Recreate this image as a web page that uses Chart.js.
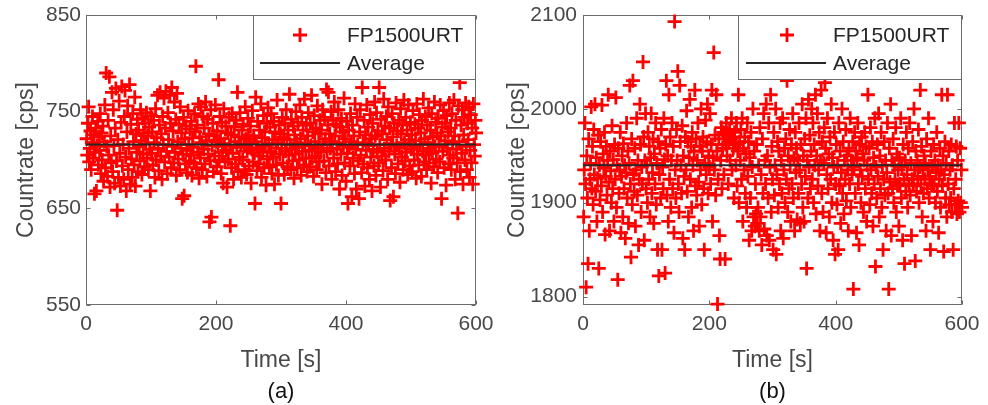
<!DOCTYPE html>
<html><head><meta charset="utf-8">
<script src="https://cdn.jsdelivr.net/npm/chart.js@4.4.1/dist/chart.umd.min.js"></script>
<style>
html,body{margin:0;padding:0;background:#fff;}
#wrap{position:relative;width:988px;height:405px;overflow:hidden;}
.panel{position:absolute;top:0;width:494px;height:405px;}
</style></head><body>
<div id="wrap">
<div class="panel" style="left:0"><canvas id="cA" width="494" height="405"></canvas></div>
<div class="panel" style="left:494px"><canvas id="cB" width="494" height="405"></canvas></div>
</div>
<script>
const seriesName = 'FP1500URT';
const averageName = 'Average';
const xLabel = 'Time [s]';
const yLabel = 'Countrate [cps]';
const captions = ['(a)', '(b)'];
const xTicks = [0, 200, 400, 600];
const yTicksA = [550, 650, 750, 850];
const yTicksB = [1800, 1900, 2000, 2100];
const averageA = 716;
const averageB = 1940;

const countrateA = [
722,705,738,755,698,712,730,690,718,745,702,726,665,708,733,668,715,740,695,724,
710,748,686,728,700,735,678,719,757,692,790,714,683,741,705,786,672,725,697,770,
688,752,715,676,733,774,699,648,721,682,761,707,673,739,776,694,716,680,745,772,
703,668,729,756,690,712,778,675,737,701,682,748,719,695,765,673,727,708,742,688,
731,714,699,752,720,685,743,706,728,693,738,717,749,702,725,690,734,711,668,746,
707,729,695,741,718,682,753,700,723,767,712,689,736,770,704,727,680,745,716,764,
698,733,771,709,686,749,721,703,767,738,692,775,714,730,697,760,708,742,684,769,
719,701,737,690,755,712,728,660,706,744,663,722,696,735,710,687,751,716,699,732,
705,740,684,723,713,697,748,729,797,692,736,708,758,681,724,702,755,718,690,745,
711,733,696,760,720,683,742,706,727,636,699,752,641,715,738,688,725,704,757,719,
693,730,714,783,700,745,722,686,739,708,676,753,717,698,735,710,672,728,701,744,
715,632,726,692,748,707,680,734,719,696,741,713,770,688,724,703,749,716,682,731,
700,737,714,690,755,722,685,709,743,726,694,718,735,676,711,751,698,725,707,655,
765,719,689,740,712,696,731,704,758,682,723,709,746,692,729,715,674,738,701,754,
717,693,734,708,748,686,721,703,740,675,729,712,695,762,718,684,736,706,727,655,
712,744,697,723,685,738,709,752,721,693,731,705,768,716,690,742,711,699,735,681,
726,706,750,718,692,739,713,700,757,722,684,744,709,731,695,763,717,702,736,688,
725,749,710,693,738,715,767,702,729,683,746,719,704,733,690,756,712,727,698,741,
708,731,675,752,716,699,744,722,687,773,709,736,770,694,727,712,750,680,719,741,
702,760,725,688,737,711,696,752,718,670,734,706,743,684,729,715,764,697,722,678,
740,707,655,731,713,694,748,719,662,736,702,725,686,758,711,670,744,716,699,660,
729,752,705,687,775,718,696,741,673,726,710,757,692,734,715,680,747,703,722,668,
738,711,694,760,725,684,749,708,730,697,775,716,672,742,704,727,689,763,712,735,
700,745,721,680,755,709,733,658,717,692,748,724,662,738,706,686,759,715,730,696,
741,712,677,753,727,703,736,690,762,718,699,744,708,731,685,757,721,694,739,711,
726,688,751,714,700,737,720,681,758,706,733,695,747,716,728,683,741,709,763,698,
722,745,705,690,736,718,754,697,712,731,676,748,707,724,693,760,714,739,701,728,
687,743,716,698,757,725,660,734,709,751,692,720,738,674,746,712,729,696,759,705,
733,690,748,718,702,762,725,680,741,711,697,645,756,719,780,688,736,707,752,675,
726,744,700,759,714,690,738,721,755,682,710,747,697,733,675,758,716,704,741,728
];

const countrateB = [
1885,1935,1985,1920,1810,1950,1905,1835,1968,1870,1925,1942,2002,1915,1960,1898,1978,1930,2005,1912,
1948,1880,1926,1972,1830,1940,1903,1965,1918,2004,1890,1952,1937,1975,1866,1928,1960,1908,1945,2015,
1922,1870,1955,1934,1900,1982,1915,1946,1880,1962,1925,2012,1895,1940,1818,1958,1910,1935,1975,1868,
1928,1950,1885,1963,1915,1940,1862,1932,1985,1905,1955,1878,1942,2025,1920,1842,1968,1898,2030,1930,
1912,1958,1875,1935,1990,1908,1945,1855,1925,2005,1962,1890,1938,1920,2050,1970,1860,1945,1995,1915,
1940,1900,1975,1925,1960,1885,1948,1995,1910,1932,1968,1878,1952,1920,1985,1898,1942,1850,1965,1822,
1930,1958,1905,1978,1850,1938,1915,1990,1946,1825,1962,2030,1908,1950,1880,2015,1925,1970,1895,1945,
1985,1915,1960,1868,2093,1935,1905,1978,1945,2040,1920,1890,2025,1965,1940,1910,1982,1862,1950,1928,
1850,1970,1935,1998,1912,1965,1885,1948,2010,1925,1960,1895,1975,1940,1870,1955,2020,1918,1968,1908,
1945,1985,1922,1875,1960,1935,2000,1898,1955,1970,1915,1850,1942,1988,1930,1965,2005,1910,1950,1938,
1995,1920,1962,2020,1880,1948,2060,1935,1972,1908,2015,1955,1792,1925,1968,1865,1840,1945,1980,1915,
1958,1975,1930,1968,1840,1962,1985,1950,1972,1920,1965,1978,1945,1968,1990,1935,1970,1958,1905,1975,
1962,1940,1985,1918,1955,2015,1900,1965,1945,1978,1925,1990,1880,1958,1935,1970,1910,1952,1895,1985,
1928,1965,1860,1948,1905,1975,1870,1938,2000,1885,1955,1875,1920,1888,1962,1878,1895,1940,1870,1980,
1885,1930,1855,1968,1910,1995,1872,1945,1920,2005,1865,1950,1905,1985,1860,1938,2015,1890,1960,1925,
1850,1975,1908,1940,2000,1845,1930,1965,1895,1955,1920,1985,1870,1945,1910,1990,1862,1935,1958,1900,
1968,1925,2030,1890,1950,1915,1978,1940,1880,1962,1920,1995,1905,1948,1870,1975,1932,1958,1882,1945,
1910,1985,1935,1878,1962,1920,2005,1895,1950,1880,1968,1928,1990,1830,1945,1905,2010,1938,1972,1915,
1955,2000,1925,1985,1900,1962,1940,2015,1888,1950,1995,1918,1935,1975,1870,1945,2020,1910,1965,1890,
1942,1980,2028,1958,1868,1930,1990,1915,1952,1885,1970,1925,2005,1900,1948,1860,1938,1975,1845,1920,
1962,1898,1940,1850,1985,1918,1955,1878,1932,2000,1910,1965,1888,1945,1925,1978,1902,1950,1935,1870,
1958,1920,1990,1895,1945,1930,1965,1808,1938,1975,1910,1955,1868,1948,1985,1920,1855,1962,1935,1900,
1970,1928,1952,1890,1945,1975,1915,1960,1880,1940,2015,1925,1958,1898,1980,1935,1910,1965,1875,1948,
1920,1990,1832,1938,1905,1962,1928,1995,1885,1950,1915,1975,1895,1940,1850,1925,1965,1908,1945,1870,
1932,1985,1910,1808,1958,1922,2005,1865,1945,1915,1968,1900,1940,1925,1980,1890,1952,1918,1935,1875,
1948,1920,1990,1905,1938,1860,1962,1925,1835,1945,1912,1975,1930,1895,1958,1920,1985,1908,1942,1865,
1925,1965,1918,2000,1935,1838,1955,1912,1945,1928,1978,1900,1938,2020,1920,1960,1885,1935,1910,1950,
1925,1942,1870,1968,1915,1935,1990,1905,1928,1850,1955,1920,1938,1880,1962,1918,1945,1900,1932,1975,
1912,1940,1868,1925,1958,1895,1935,2015,1918,1950,1848,1930,1965,1905,1942,1885,2015,1920,1955,1898,
1935,1905,1962,1890,1940,1850,1915,1985,1898,1925,1960,1888,1945,1902,1985,1890,1958,1900,1935,1895
];

// sampling instants (one reading per second)
const timeA = countrateA.map((_, i) => i + 1);
const timeB = countrateB.map((_, i) => i + 1);

const FONT = "'Liberation Sans', Arial, Helvetica, sans-serif";
const AXIS_GREY = '#6b6b6b';
const TEXT_GREY = '#484848';
const RED = 'rgb(255,0,0)';
const DARK = '#262626';
const MARK_R = 7;
const MARK_W = 2.8;

const matlabFrame = {
  id: 'matlabFrame',
  beforeDatasetsDraw(chart) {
    const {ctx, chartArea: a, scales} = chart;
    ctx.save();
    ctx.strokeStyle = AXIS_GREY;
    ctx.lineWidth = 1;
    const L = Math.round(a.left) + 0.5, R = Math.round(a.right) - 0.5;
    const T = Math.round(a.top) + 0.5, B = Math.round(a.bottom) - 0.5;
    ctx.strokeRect(L, T, R - L, B - T);
    const tl = 4;
    ctx.beginPath();
    scales.x.ticks.forEach(t => {
      const px = Math.round(scales.x.getPixelForValue(t.value)) + 0.5;
      ctx.moveTo(px, B); ctx.lineTo(px, B - tl);
      ctx.moveTo(px, T); ctx.lineTo(px, T + tl);
    });
    scales.y.ticks.forEach(t => {
      const py = Math.round(scales.y.getPixelForValue(t.value)) + 0.5;
      ctx.moveTo(L, py); ctx.lineTo(L + tl, py);
      ctx.moveTo(R, py); ctx.lineTo(R - tl, py);
    });
    ctx.stroke();
    ctx.restore();
  },
  afterDatasetsDraw(chart, args, o) {
    const {ctx, chartArea: a} = chart;
    const bx = Math.round(a.right - o.width), by = Math.round(a.top);
    ctx.save();
    ctx.fillStyle = '#ffffff';
    ctx.fillRect(bx, by, o.width, o.height);
    ctx.strokeStyle = AXIS_GREY;
    ctx.lineWidth = 1;
    ctx.strokeRect(bx + 0.5, by + 0.5, o.width - 1, o.height - 1);
    const dsLine = chart.data.datasets[0];
    const dsPts = chart.data.datasets[1];
    const mx = bx + o.markerX, my = by + o.row1, r = MARK_R;
    ctx.strokeStyle = RED;
    ctx.lineWidth = MARK_W;
    ctx.beginPath();
    ctx.moveTo(mx - r, my); ctx.lineTo(mx + r, my);
    ctx.moveTo(mx, my - r); ctx.lineTo(mx, my + r);
    ctx.stroke();
    ctx.strokeStyle = DARK;
    ctx.lineWidth = 2;
    ctx.beginPath();
    ctx.moveTo(bx + o.lineX0, by + o.row2);
    ctx.lineTo(bx + o.lineX1, by + o.row2);
    ctx.stroke();
    ctx.fillStyle = DARK;
    ctx.font = '21px ' + FONT;
    ctx.textBaseline = 'middle';
    ctx.textAlign = 'left';
    ctx.fillText(dsPts.label, bx + o.textX, by + o.row1 + 1);
    ctx.fillText(dsLine.label, bx + o.textX, by + o.row2 + 1);
    ctx.restore();
  }
};

function makePanel(id, times, values, avg, yMin, yTicks, caption, g) {
  const points = values.map((v, i) => ({x: times[i], y: v}));
  return new Chart(document.getElementById(id), {
    type: 'scatter',
    data: {
      datasets: [
        {
          type: 'line', label: averageName,
          data: [{x: xTicks[0], y: avg}, {x: xTicks[xTicks.length - 1], y: avg}],
          borderColor: DARK, borderWidth: 2, pointRadius: 0, fill: false
        },
        {
          label: seriesName, data: points,
          pointStyle: 'cross', pointRadius: MARK_R, pointHoverRadius: MARK_R,
          pointBorderWidth: MARK_W, pointBorderColor: RED, pointBackgroundColor: RED,
          borderColor: RED, backgroundColor: RED, clip: false
        }
      ]
    },
    options: {
      responsive: false, animation: false, devicePixelRatio: 1,
      events: [],
      layout: {padding: {left: 0, right: g.padRight, top: 15, bottom: 0}},
      plugins: {
        legend: {display: false},
        tooltip: {enabled: false},
        title: {
          display: true, position: 'bottom', fullSize: false, text: caption, color: '#111',
          font: {family: FONT, size: 22, weight: 'normal'}, padding: {top: 4, bottom: 0}
        },
        matlabFrame: g.legend
      },
      scales: {
        x: {
          type: 'linear', min: xTicks[0], max: xTicks[xTicks.length - 1],
          grid: {display: false, drawTicks: false}, border: {display: false},
          ticks: {font: {family: FONT, size: 21}, color: TEXT_GREY, padding: 7, maxRotation: 0,
                  callback: v => String(v)},
          afterBuildTicks: s => { s.ticks = xTicks.map(v => ({value: v})); },
          afterFit: s => { s.height = 69.6; s.paddingLeft = 0; s.paddingRight = 0; },
          title: {display: true, text: xLabel, color: TEXT_GREY,
                  font: {family: FONT, size: 23}, padding: {top: 6, bottom: 0}}
        },
        y: {
          type: 'linear', min: yMin, max: yTicks[yTicks.length - 1],
          grid: {display: false, drawTicks: false}, border: {display: false},
          ticks: {font: {family: FONT, size: 21}, color: TEXT_GREY, padding: g.yTickPad,
                  callback: v => String(v)},
          afterBuildTicks: s => { s.ticks = yTicks.map(v => ({value: v})); },
          afterFit: s => { s.width = g.yWidth; s.paddingTop = 0; s.paddingBottom = 0; },
          title: {display: true, text: yLabel, color: TEXT_GREY,
                  font: {family: FONT, size: 23}, padding: {top: g.yTitlePad, bottom: 0}}
        }
      }
    },
    plugins: [matlabFrame]
  });
}

makePanel('cA', timeA, countrateA, averageA, 550, yTicksA, captions[0], {
  padRight: 18, yWidth: 86, yTickPad: 5, yTitlePad: 13,
  legend: {width: 223, height: 65, markerX: 47, textX: 94, lineX0: 7, lineX1: 87, row1: 20, row2: 48}
});
makePanel('cB', timeB, countrateB, averageB, 1791, yTicksB, captions[1], {
  padRight: 26, yWidth: 89, yTickPad: 6, yTitlePad: 10,
  legend: {width: 224, height: 65, markerX: 49, textX: 95, lineX0: 8, lineX1: 88, row1: 20, row2: 48}
});
</script>
</body></html>
